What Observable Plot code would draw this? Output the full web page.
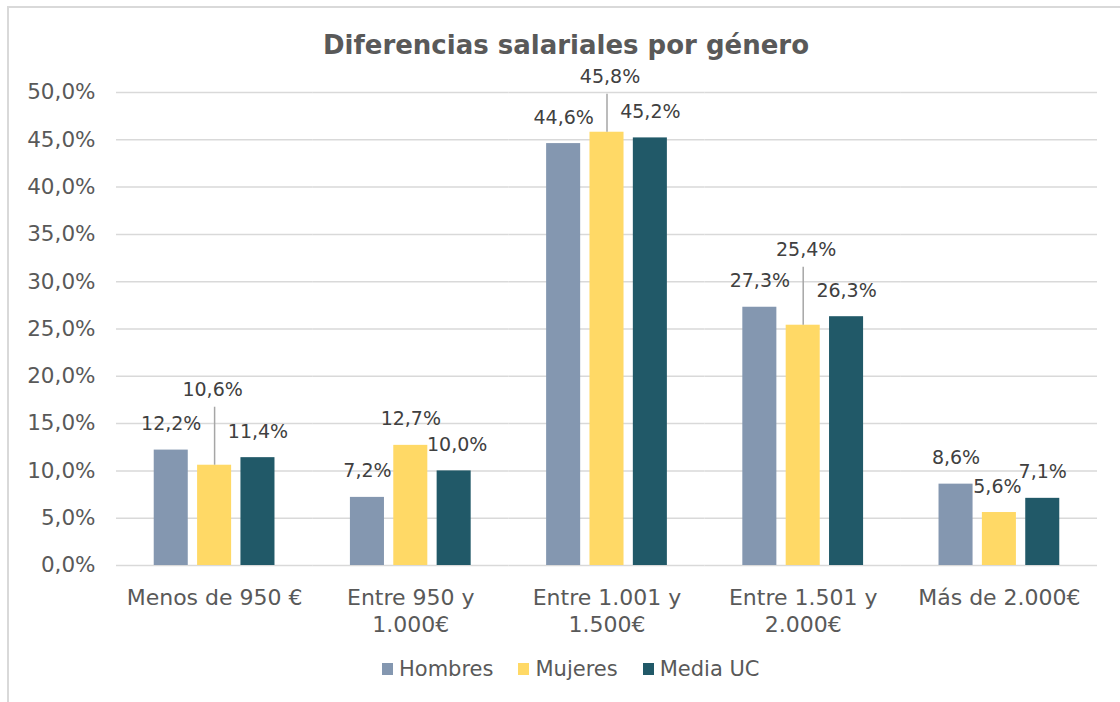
<!DOCTYPE html>
<html><head><meta charset="utf-8">
<script src="https://cdn.jsdelivr.net/npm/d3@7"></script>
<script src="https://cdn.jsdelivr.net/npm/@observablehq/plot@0.6"></script>
<style>
body{margin:0;background:#fff;font-family:"DejaVu Sans",Verdana,sans-serif;}
#wrap{position:relative;width:1120px;height:702px;overflow:hidden;background:#fff;}
#frame{position:absolute;left:7px;top:6px;width:1300px;height:900px;border:2px solid #d9d9d9;box-sizing:border-box;}
#title{position:absolute;left:7px;width:1118px;top:27px;text-align:center;font-size:26px;font-weight:bold;color:#595959;line-height:36px;}
#chart{position:absolute;left:0;top:50px;}
#legend{position:absolute;top:657px;left:382px;display:flex;align-items:center;font-size:21px;line-height:24px;color:#595959;}
#legend .sw{width:11px;height:12px;margin-right:6px;}
#legend .it{display:flex;align-items:center;margin-right:25px;}
</style>
</head><body>
<div id="wrap">
  <div id="frame"></div>
  <div id="title">Diferencias salariales por género</div>
  <div id="chart"></div>
  <div id="legend"></div>
</div>
<script>
// ---- data ----
const categories = ["Menos de 950 €", "Entre 950 y 1.000€", "Entre 1.001 y 1.500€", "Entre 1.501 y 2.000€", "Más de 2.000€"];
const categoryTickLabels = ["Menos de 950 €", "Entre 950 y\n1.000€", "Entre 1.001 y\n1.500€", "Entre 1.501 y\n2.000€", "Más de 2.000€"];
const series = ["Hombres", "Mujeres", "Media UC"];
const hombres = [12.2, 7.2, 44.6, 27.3, 8.6];
const mujeres = [10.6, 12.7, 45.8, 25.4, 5.6];
const mediaUC = [11.4, 10.0, 45.2, 26.3, 7.1];
const yTicks = [0, 5, 10, 15, 20, 25, 30, 35, 40, 45, 50];

// ---- styling (kept apart from data) ----
const colors = ["#8497B0", "#FFD966", "#215968"];
// label placement tweaks: [seriesIndex, categoryIndex, dx, dy, leader]
const labelTweaks = [
  [1, 0, -2, -75, true],
  [1, 2, 3, -55, true],
  [1, 3, 3, -75, true],
  [2, 1, 3, -26, false],
  [1, 4, -2, -26, false]
];

const valuesBySeries = [hombres, mujeres, mediaUC];
const rows = [];
series.forEach((s, si) => categories.forEach((c, ci) => rows.push({serie: s, cat: c, value: valuesBySeries[si][ci], si, ci})));

const fmt = v => v.toFixed(1).replace(".", ",") + "%";

const labelMarks = [];
for (const r of rows) {
  const t = labelTweaks.find(d => d[0] === r.si && d[1] === r.ci);
  const dx = t ? t[2] : 0, dy = t ? t[3] : -26;
  labelMarks.push(Plot.text([r], {fx: "cat", x: "serie", y: "value", text: d => fmt(d.value), dx, dy, fill: "#404040", fontSize: 19}));
  if (t && t[4]) {
    labelMarks.push(Plot.ruleX([r], {fx: "cat", x: "serie", y1: "value", y2: "value", insetTop: -(Math.abs(dy) - 17), stroke: "#a6a6a6", strokeWidth: 1.5}));
  }
}

const plot = Plot.plot({
  width: 1120,
  height: 600,
  marginLeft: 116,
  marginRight: 23,
  marginTop: 42,
  marginBottom: 85,
  style: {fontFamily: "'DejaVu Sans', Verdana, sans-serif", color: "#595959", background: "transparent", overflow: "visible"},
  fx: {domain: categories, padding: 0, round: false, label: null},
  x: {domain: series, paddingInner: 0.215, paddingOuter: 0.87, round: false, axis: null},
  y: {domain: [0, 50], label: null},
  color: {domain: series, range: colors},
  marks: [
    Plot.gridY(yTicks, {stroke: "#d9d9d9", strokeOpacity: 1, strokeWidth: 1.5}),
    Plot.axisY(yTicks, {tickSize: 0, tickPadding: 21, tickFormat: fmt, fontSize: 21.5, fill: "#595959", label: null}),
    Plot.axisFx({anchor: "bottom", tickSize: 0, tickPadding: 21, fontSize: 22, fill: "#595959", lineHeight: 1.2, label: null,
      tickFormat: c => categoryTickLabels[categories.indexOf(c)]}),
    Plot.barY(rows, {fx: "cat", x: "serie", y: "value", fill: "serie"}),
    ...labelMarks
  ]
});
document.getElementById("chart").appendChild(plot);

const legend = document.getElementById("legend");
series.forEach((s, i) => {
  const it = document.createElement("div");
  it.className = "it";
  it.innerHTML = `<div class="sw" style="background:${colors[i]}"></div><span>${s}</span>`;
  legend.appendChild(it);
});
</script>
</body></html>
